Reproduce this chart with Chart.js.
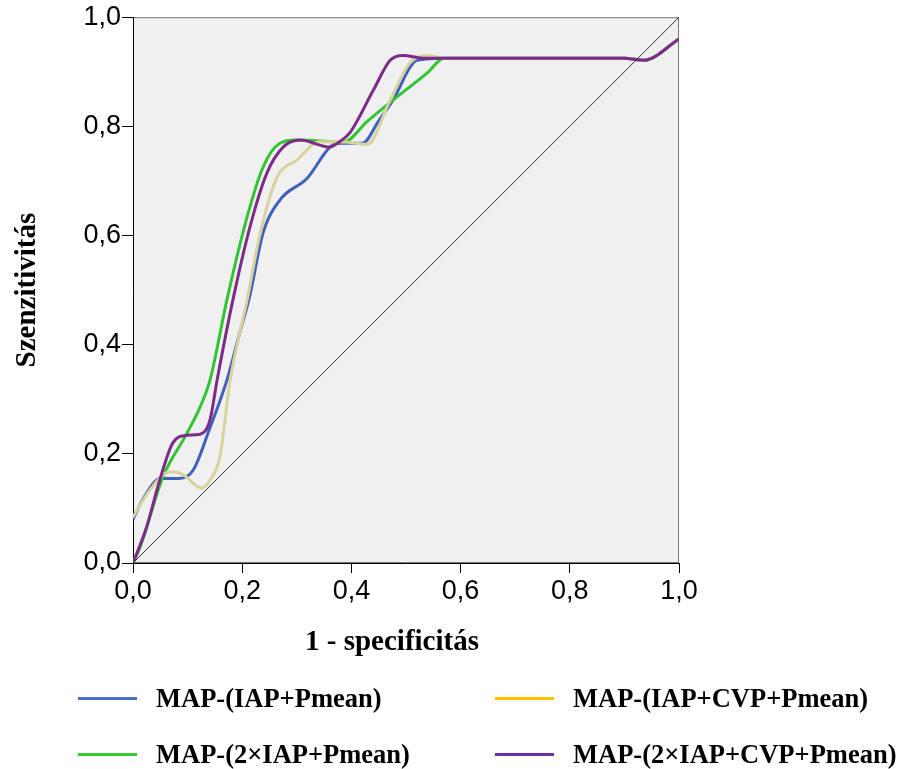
<!DOCTYPE html>
<html>
<head>
<meta charset="utf-8">
<script src="https://cdn.jsdelivr.net/npm/chart.js@4"></script>
<style>
  body { margin: 0; background: #fff; }
</style>
</head>
<body>
<canvas id="chart" width="901" height="769"></canvas>
<script>
const seriesNames = ['MAP-(IAP+Pmean)', 'MAP-(IAP+CVP+Pmean)', 'MAP-(2×IAP+Pmean)', 'MAP-(2×IAP+CVP+Pmean)'];
const legendColors = ['#4a72c4', '#ffc000', '#33cc33', '#7030a0'];
const lineColors = ['#4060c0', '#d8d39a', '#33c433', '#7d2a88'];
const tickLabels = ['0,0', '0,2', '0,4', '0,6', '0,8', '1,0'];

// x = 1 - specificitás, y = szenzitivitás
const tail = [[0.6, 0.925], [0.9, 0.925], [0.935, 0.921], [1.0, 0.96]];
const rocIAP = [[0, 0.08], [0.02, 0.12], [0.05, 0.155], [0.085, 0.155], [0.11, 0.17], [0.14, 0.245], [0.172, 0.335], [0.195, 0.42], [0.214, 0.49], [0.238, 0.604], [0.269, 0.665], [0.319, 0.705], [0.361, 0.762], [0.38, 0.769], [0.42, 0.769], [0.45, 0.81], [0.476, 0.848], [0.52, 0.921], [0.57, 0.925]];
const rocIAPCVP = [[0, 0.084], [0.031, 0.134], [0.068, 0.167], [0.09, 0.163], [0.126, 0.137], [0.141, 0.152], [0.159, 0.194], [0.178, 0.335], [0.209, 0.482], [0.233, 0.604], [0.264, 0.707], [0.3, 0.738], [0.342, 0.772], [0.38, 0.772], [0.429, 0.767], [0.471, 0.848], [0.507, 0.916], [0.538, 0.93], [0.57, 0.925]];
const roc2IAP = [[0, 0], [0.013, 0.029], [0.055, 0.158], [0.099, 0.238], [0.123, 0.286], [0.141, 0.335], [0.172, 0.482], [0.209, 0.634], [0.238, 0.725], [0.269, 0.769], [0.3, 0.775], [0.385, 0.771], [0.43, 0.81], [0.476, 0.848], [0.538, 0.897], [0.57, 0.925]];
const roc2IAPCVP = [[0, 0], [0.025, 0.066], [0.049, 0.152], [0.073, 0.22], [0.099, 0.234], [0.123, 0.236], [0.141, 0.262], [0.154, 0.335], [0.183, 0.482], [0.214, 0.615], [0.245, 0.714], [0.275, 0.762], [0.306, 0.775], [0.361, 0.762], [0.374, 0.769], [0.397, 0.788], [0.44, 0.866], [0.471, 0.921], [0.495, 0.93], [0.531, 0.925]];
const diagonal = [[0, 0], [1, 1]];

const toXY = arr => arr.map(p => ({ x: p[0], y: p[1] }));
const curves = [rocIAP, rocIAPCVP, roc2IAP, roc2IAPCVP];
// higher number = drawn further below
const drawOrder = [4, 2, 3, 1];

const plotBg = {
    id: 'plotBg',
    beforeDraw(c) {
        const a = c.chartArea, g = c.ctx;
        g.save();
        g.fillStyle = '#f0f0f0';
        g.fillRect(a.left, a.top, a.width, a.height);
        g.strokeStyle = '#777';
        g.lineWidth = 1;
        g.strokeRect(a.left + 0.5, a.top + 0.5, a.width - 1, a.height - 1);
        g.restore();
    }
};

// x title and the two-column legend under the plot
const extras = {
    id: 'extras',
    afterDraw(c) {
        const g = c.ctx;
        g.save();
        g.fillStyle = '#000';
        g.textAlign = 'center';
        g.textBaseline = 'alphabetic';
        g.font = 'bold 29px "Liberation Serif"';
        g.fillText('1 - specificitás', 392, 650);
        g.textAlign = 'left';
        g.font = 'bold 26.5px "Liberation Serif"';
        const cols = [78, 495], rows = [698, 754];
        seriesNames.forEach((name, i) => {
            const x = cols[i % 2], y = rows[Math.floor(i / 2)];
            g.fillStyle = legendColors[i];
            g.fillRect(x, y - 1, 59, 3);
            g.fillStyle = '#000';
            g.fillText(name, x + 78, y + 9);
        });
        g.restore();
    }
};

const datasets = curves.map((d, i) => ({
    label: seriesNames[i],
    data: toXY(d.concat(tail)),
    borderColor: lineColors[i],
    borderWidth: 3,
    pointRadius: 0,
    cubicInterpolationMode: 'monotone',
    order: drawOrder[i]
}));
datasets.push({
    label: 'ref',
    data: toXY(diagonal),
    borderColor: '#333',
    borderWidth: 1,
    pointRadius: 0,
    order: 0
});

new Chart(document.getElementById('chart'), {
    type: 'line',
    data: { datasets },
    plugins: [plotBg, extras],
    options: {
        responsive: false,
        animation: false,
        layout: { padding: { left: 10, right: 222, top: 17, bottom: 109 } },
        plugins: { legend: { display: false }, tooltip: { enabled: false } },
        scales: {
            x: {
                type: 'linear', min: 0, max: 1,
                afterFit: s => { s.height = 97; },
                ticks: { stepSize: 0.2, color: '#000', font: { family: 'Liberation Sans', size: 27 }, padding: 2,
                    callback: (v, i) => tickLabels[i] },
                grid: { drawOnChartArea: false, tickLength: 10, color: '#000' },
                border: { color: '#000' }
            },
            y: {
                min: 0, max: 1,
                afterFit: s => { s.width = 123; },
                ticks: { stepSize: 0.2, color: '#000', font: { family: 'Liberation Sans', size: 27 }, padding: 1,
                    callback: (v, i) => tickLabels[i] },
                grid: { drawOnChartArea: false, tickLength: 11, color: '#000' },
                border: { color: '#000' },
                title: { display: true, text: 'Szenzitivitás', color: '#000',
                    font: { family: 'Liberation Serif', size: 29, weight: 'bold' }, padding: 0 }
            }
        }
    }
});
</script>
</body>
</html>
